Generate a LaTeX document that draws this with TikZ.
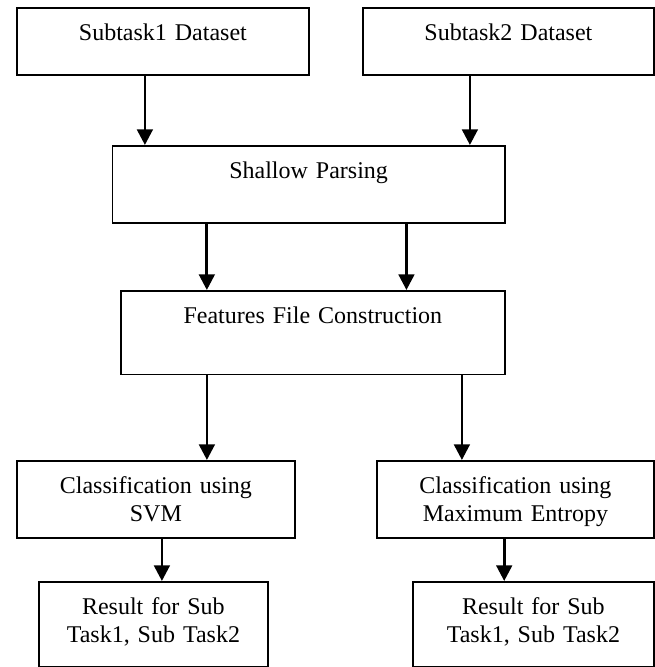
\documentclass[tikz,border=0pt]{standalone}
\usepackage{fontspec}
\setmainfont{Liberation Serif}
\usetikzlibrary{arrows.meta}

\begin{document}
\begin{tikzpicture}[x=0.5pt, y=-0.5pt, every edge/.style={draw, solid, line width=1.4pt},
                    block/.style={draw=black, line width=0.9pt, anchor=north west, inner sep=0pt,
                                  align=center, text height=16.25pt,
                                  font=\fontsize{12pt}{13.8pt}\selectfont},
                    >={Triangle[length=7.8pt,width=7.8pt]}]

\useasboundingbox (0,0) rectangle (654,667);

\node[block, text width=146pt, text depth=17.5pt] (sub1) at (16,7) {Subtask1 Dataset};
\node[block, text width=145.5pt, text depth=17.5pt] (sub2) at (362,7) {Subtask2 Dataset};
\node[block, text width=196.25pt, text depth=22.5pt] (parse) at (111.5,145) {Shallow Parsing};
\node[block, text width=192pt, text depth=25.5pt] (feat) at (120,290) {Features File Construction};
\node[block, text width=139pt, text depth=22.25pt] (svm) at (16,460) {Classification using\\SVM};
\node[block, text width=138.5pt, text depth=22.25pt] (maxent) at (376,460) {Classification using\\Maximum Entropy};
\node[block, text width=114.5pt, text depth=26.25pt] (ressvm) at (38,581) {Result for Sub\\Task1, Sub Task2};
\node[block, text width=120.5pt, text depth=26.25pt] (resmax) at (412,581) {Result for Sub\\Task1, Sub Task2};

\path[->]
([xshift=-9pt]sub1.south) edge ([xshift=-9pt]sub1.south |- parse.north)
([xshift=-19.25pt]sub2.south) edge ([xshift=-19.25pt]sub2.south |- parse.north)
([xshift=-50.9pt]parse.south) edge ([xshift=-50.9pt]parse.south |- feat.north)
([xshift=48.9pt]parse.south) edge ([xshift=48.9pt]parse.south |- feat.north)
([xshift=-53pt]feat.south) edge ([xshift=-53pt]feat.south |- svm.north)
([xshift=74.5pt]feat.south) edge ([xshift=74.5pt]feat.south |- maxent.north)
([xshift=3pt]svm.south) edge ([xshift=3pt]svm.south |- ressvm.north)
([xshift=-5.6pt]maxent.south) edge ([xshift=-5.6pt]maxent.south |- resmax.north);
\end{tikzpicture}
\end{document}
